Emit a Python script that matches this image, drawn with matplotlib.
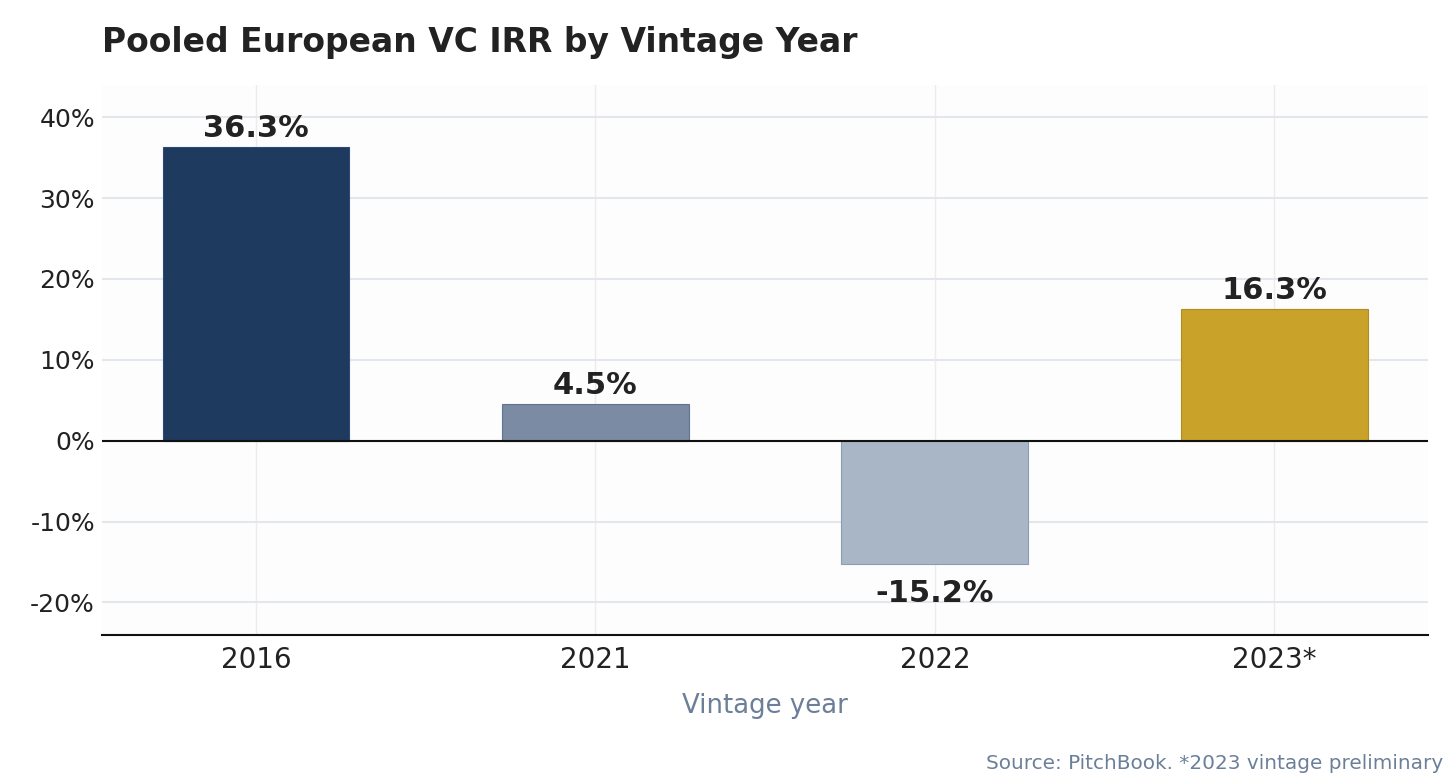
import matplotlib.pyplot as plt
import numpy as np

vintages = ["2016", "2021", "2022", "2023*"]
irr = [36.3, 4.5, -15.2, 16.3]
bar_colors = ["#1f3a5f", "#7a8ba3", "#a9b6c6", "#c9a22a"]
edge_colors = ["#2c4a75", "#5f7390", "#8c9cb2", "#b08c1e"]
y_ticks = [-20, -10, 0, 10, 20, 30, 40]

fig = plt.figure(figsize=(14.56, 7.78), dpi=100)
ax = fig.add_axes([0.070, 0.184, 0.911, 0.707])
ax.set_facecolor("#fdfdfd")

x = np.arange(len(vintages))
ax.bar(x, irr, width=0.55, color=bar_colors, edgecolor=edge_colors, linewidth=0.8, zorder=3)

for xi, v in zip(x, irr):
    label = f"{v:.1f}%"
    if v >= 0:
        ax.annotate(label, (xi, v), xytext=(0, 3), textcoords="offset points",
                    ha="center", va="bottom", fontsize=22, fontweight="bold", color="#222222")
    else:
        ax.annotate(label, (xi, v), xytext=(0, -11), textcoords="offset points",
                    ha="center", va="top", fontsize=22, fontweight="bold", color="#222222")

ax.axhline(0, color="#111111", linewidth=1.5, zorder=4)

ax.set_xlim(-0.454, 3.454)
ax.set_ylim(-24, 44)
ax.set_xticks(x)
ax.set_xticklabels(vintages)
ax.set_yticks(y_ticks)
ax.set_yticklabels([f"{t}%" for t in y_ticks])
ax.tick_params(axis="both", length=0, labelcolor="#222222")
ax.tick_params(axis="x", pad=8, labelsize=20)
ax.tick_params(axis="y", pad=5, labelsize=18)

ax.grid(axis="y", color="#e4e6ee", linewidth=1.5, zorder=0)
ax.grid(axis="x", color="#ececf0", linewidth=1.0, zorder=0)
ax.set_axisbelow(True)

for side in ["top", "right", "left"]:
    ax.spines[side].set_visible(False)
ax.spines["bottom"].set_color("#111111")
ax.spines["bottom"].set_linewidth(1.5)

ax.set_xlabel("Vintage year", fontsize=18.7, color="#6b7f99", labelpad=14)

fig.text(0.070, 0.945, "Pooled European VC IRR by Vintage Year", fontsize=23.8,
         fontweight="bold", color="#222222", ha="left", va="center")
fig.text(0.991, 0.006, "Source: PitchBook. *2023 vintage preliminary", fontsize=14.4,
         color="#6b7f99", ha="right", va="bottom")

fig.savefig("out.png", dpi=100, facecolor="white")
